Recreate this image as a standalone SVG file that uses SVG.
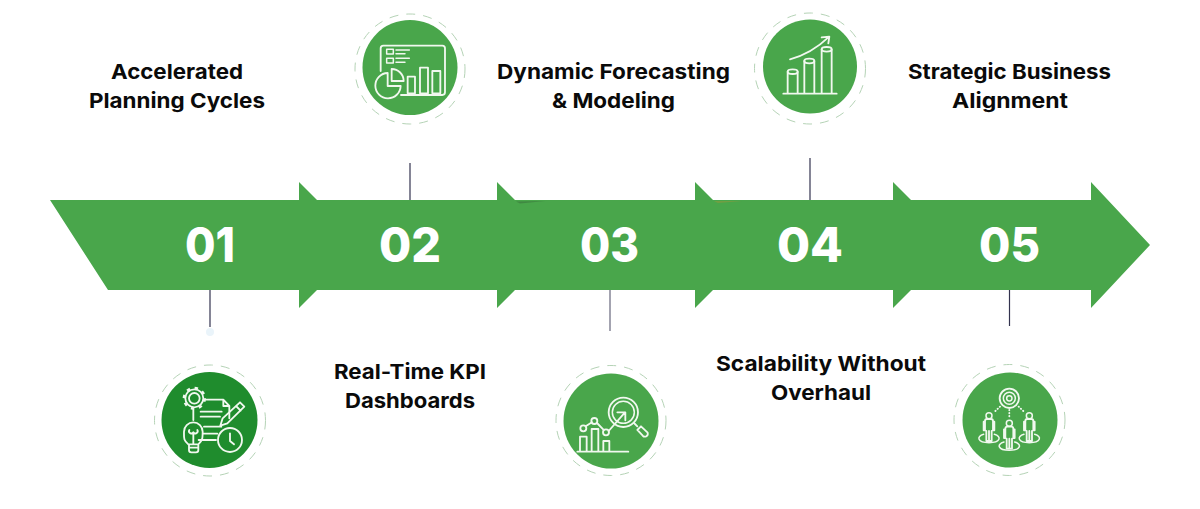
<svg xmlns="http://www.w3.org/2000/svg" width="1200" height="509" viewBox="0 0 1200 509">
<style>
.disc{fill:#49a64b}
.ring{fill:none;stroke:#b5d3b6;stroke-width:1;stroke-dasharray:9 8}
.ic{fill:none;stroke:#f1f8ef;stroke-width:5.500;stroke-linejoin:round;stroke-linecap:round}
.th{stroke-width:4.500}
.dot{stroke-dasharray:1 8}
.teeth{fill:none;stroke:#f1f8ef;stroke-width:8;stroke-dasharray:10 14.350}
.conn{stroke:#33334f;stroke-width:1.200}
.lbl{font-family:"Inter","Liberation Sans",sans-serif;font-weight:700;font-size:20.500px;fill:#0a0a0a;text-anchor:start}
.num{font-family:"Inter","Liberation Sans",sans-serif;font-weight:800;font-size:48px;fill:#fff;text-anchor:start}
</style>
<rect width="1200" height="509" fill="#fff"/>
<g id="arrow-band">
<path class="disc" d="M50 200H299V182L317 200H497V182L515 200H695V182L713 200H893V182L911 200H1091V182L1150 245L1091 308V290H911L893 308V290H713L695 308V290H515L497 308V290H317L299 308V290H108Z"/>
<path d="M516 201.500L545 201 520 203.500Z" fill="#3d7d3e" opacity=".7"/>
<path d="M714 201L742 201 718 203Z" fill="#8c9a3e" opacity=".6"/>
</g>
<g id="connectors">
<line class="conn" x1="210" y1="290" x2="210" y2="327"/>
<line class="conn" x1="410" y1="163" x2="410" y2="200"/>
<line class="conn" x1="610" y1="290" x2="610" y2="331" stroke-opacity=".75"/>
<line class="conn" x1="810" y1="158" x2="810" y2="200"/>
<line class="conn" x1="1009.500" y1="290" x2="1009.500" y2="326"/>
<circle cx="210" cy="332" r="4" fill="#eaf4fa"/>
</g>
<g id="node-1">
<text class="num" x="185" y="262" textLength="50" lengthAdjust="spacingAndGlyphs">01</text>
<text class="lbl" x="111" y="79" textLength="132" lengthAdjust="spacingAndGlyphs">Accelerated</text>
<text class="lbl" x="89" y="108" textLength="176" lengthAdjust="spacingAndGlyphs">Planning Cycles</text>
<circle class="ring" cx="210" cy="420.500" r="55.500"/>
<circle cx="209.500" cy="420" r="48" fill="#1f8c2d"/>
<g transform="translate(140 355) scale(.3333)">
<circle class="ic" cx="163" cy="130" r="16"/>
<circle class="ic" cx="163" cy="130" r="27"/>
<circle class="teeth" cx="163" cy="130" r="31"/>
<path class="ic" d="M160 165V195M195 134H250L268 153V190M250 134V153H268M182 170H245M182 185H240M192 215H244M190 236H232M176 255H228"/>
<path class="ic" d="M300 142L313 155 262 205 241 212 248 190ZM288 153L302 167"/>
<path class="ic" d="M145 268C130 255 132 250 132 230A28 28 0 0 1 188 230C188 250 188 255 175 268ZM147 268V285Q147 292 154 292H168Q175 292 175 285V268M147 278H175M160 268V232M148 225A6 6 0 0 0 160 232 6 6 0 0 0 172 225"/>
<circle class="ic" cx="270" cy="255" r="36" style="fill:#1f8c2d"/>
<path class="ic" d="M270 235V258L282 268"/>
</g>
</g>
<g id="node-2">
<text class="num" x="379" y="262" textLength="62" lengthAdjust="spacingAndGlyphs">02</text>
<text class="lbl" x="334" y="379" textLength="152" lengthAdjust="spacingAndGlyphs">Real-Time KPI</text>
<text class="lbl" x="345" y="408" textLength="130" lengthAdjust="spacingAndGlyphs">Dashboards</text>
<circle class="ring" cx="410" cy="69" r="55"/>
<circle class="disc" cx="410" cy="67.500" r="47.500"/>
<g transform="translate(340 0) scale(.3333)">
<path class="ic" d="M122 213V145Q122 137 130 137H307Q315 137 315 145V277Q315 285 307 285H183"/>
<rect class="ic th" x="140" y="148" width="20" height="14"/>
<rect class="ic th" x="140" y="175" width="20" height="14"/>
<path class="ic th" d="M168 150H208M168 161H195M168 175H208M168 187H195"/>
<rect class="ic" x="203" y="230" width="22" height="50"/>
<rect class="ic" x="240" y="203" width="24" height="77"/>
<rect class="ic" x="277" y="213" width="24" height="67"/>
<path class="ic" d="M143 219A38 38 0 1 0 182 258H143ZM155 207A36 36 0 0 1 191 243H155Z"/>
</g>
</g>
<g id="node-3">
<text class="num" x="580" y="262" textLength="59" lengthAdjust="spacingAndGlyphs">03</text>
<text class="lbl" x="497" y="79" textLength="233" lengthAdjust="spacingAndGlyphs">Dynamic Forecasting</text>
<text class="lbl" x="552" y="108" textLength="123" lengthAdjust="spacingAndGlyphs">&amp; Modeling</text>
<circle class="ring" cx="611" cy="420.500" r="55"/>
<circle class="disc" cx="611" cy="421" r="47.500"/>
<g transform="translate(540 355) scale(.3333)">
<path class="ic" d="M112 290H265M120 290V245H140V290M155 290V222H175V290M190 290V258H208V290M137 214L156 202M171 204L191 225M206 228L255 172M232 172H256V196"/>
<circle class="ic" cx="130" cy="220" r="9"/>
<circle class="ic" cx="163" cy="198" r="9"/>
<circle class="ic" cx="198" cy="232" r="9"/>
<circle class="ic" cx="250" cy="172" r="44"/>
<circle class="ic th" cx="250" cy="172" r="33"/>
<path class="ic" d="M282 204L292 214M292 225L303 214 323 233Q325 240 319 244 312 246 309 243Z"/>
</g>
</g>
<g id="node-4">
<text class="num" x="777" y="262" textLength="66" lengthAdjust="spacingAndGlyphs">04</text>
<text class="lbl" x="716" y="371" textLength="210" lengthAdjust="spacingAndGlyphs">Scalability Without</text>
<text class="lbl" x="771" y="400" textLength="100" lengthAdjust="spacingAndGlyphs">Overhaul</text>
<circle class="ring" cx="810" cy="68.500" r="55.500"/>
<circle class="disc" cx="810" cy="66.500" r="47"/>
<g transform="translate(740 0) scale(.3333)">
<path class="ic" d="M130 281H290M143 281V215M173 281V215M193 281V183M223 281V183M245 281V148M275 281V148M150 178Q215 160 265 112M245 112L268 110 265 130"/>
<ellipse class="ic" cx="158" cy="215" rx="15" ry="7"/>
<ellipse class="ic" cx="208" cy="183" rx="15" ry="7"/>
<ellipse class="ic" cx="260" cy="148" rx="15" ry="7"/>
</g>
</g>
<g id="node-5">
<text class="num" x="979" y="262" textLength="61" lengthAdjust="spacingAndGlyphs">05</text>
<text class="lbl" x="908" y="79" textLength="203" lengthAdjust="spacingAndGlyphs">Strategic Business</text>
<text class="lbl" x="952" y="108" textLength="116" lengthAdjust="spacingAndGlyphs">Alignment</text>
<circle class="ring" cx="1009.500" cy="420" r="55.500"/>
<circle class="disc" cx="1010" cy="420" r="47.500"/>
<g transform="translate(940 355) scale(.3333)">
<circle class="ic" cx="208" cy="130" r="29"/>
<circle class="ic th" cx="208" cy="130" r="18"/>
<circle class="ic th" cx="208" cy="130" r="8"/>
<path class="ic dot" d="M180 155L162 172M208 165V190M236 155L254 172"/>
<g id="p5">
<circle class="ic th" cx="147" cy="182" r="9"/>
<path class="ic" d="M135 226V198Q135 192 141 192H153Q159 192 159 198V226M135 200H131V226H135M159 200H163V226H159M147 228V258M139 228V258H155V228"/>
<path class="ic th" d="M131 238C108 244 112 263 147 263 182 263 186 244 163 238"/>
</g>
<use href="#p5" x="61" y="23"/>
<use href="#p5" x="121"/>
</g>
</g>
</svg>
